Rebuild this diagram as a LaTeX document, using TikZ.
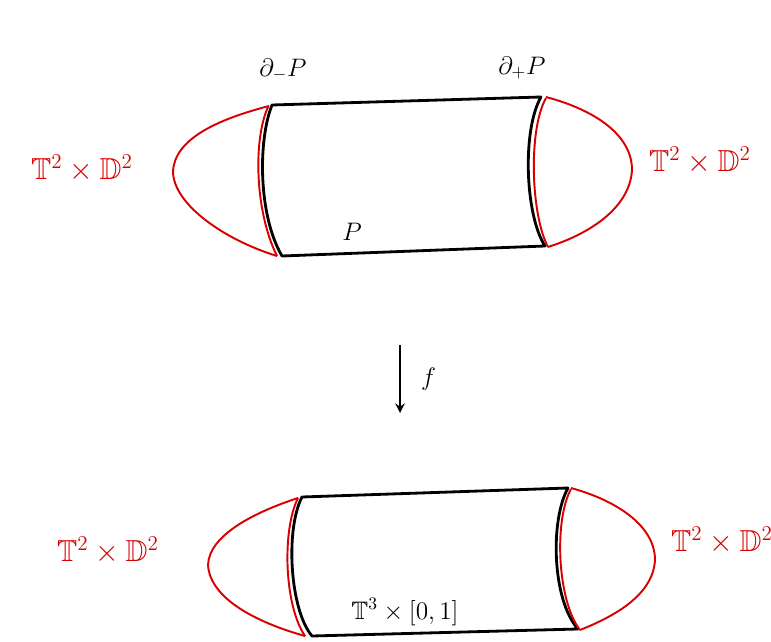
\documentclass[tikz,border=0pt]{standalone}
\usepackage{amssymb}
\begin{document}
\begin{tikzpicture}[
    x=0.02cm,
    y=-0.02cm,
    edge/.style={
        draw=black,
        line width=1.6pt,
        line join=round
    },
    redcap/.style={
        draw=red!85!black,
        line width=1.1pt
    },
    redlabel/.style={
        text=red!85!black,
        font=\LARGE
    },
    blacklabel/.style={
        font=\Large
    },
    arrow/.style={
        ->,
        line width=1.4pt,
        >=stealth
    }
]
\useasboundingbox (0,0) rectangle (771,642);

% Top piece P
\draw [redcap] (269,106) .. controls (215,120) and (174,140) .. (173,172) .. controls (174,205) and (225,240) .. (277,256);
\draw [redcap] (268,107) .. controls (253,140) and (255,212) .. (277,256);
\draw [edge] (272,105) -- (541,97) .. controls (522,130) and (525,215) .. (545,246) -- (282,256) .. controls (258,215) and (258,140) .. (272,105) -- cycle;
\draw [redcap] (546,97) .. controls (595,110) and (632,135) .. (632,170) .. controls (630,205) and (595,232) .. (548,247);
\draw [redcap] (546,98) .. controls (528,130) and (531,215) .. (548,247);

% Bottom piece
\draw [redcap] (298,498) .. controls (255,512) and (209,535) .. (208,565) .. controls (210,598) and (255,622) .. (305,636);
\draw [redcap] (298,498) .. controls (282,530) and (284,605) .. (305,636);
\draw [edge] (302,497) -- (568,488) .. controls (550,520) and (552,600) .. (578,629) -- (312,636) .. controls (290,610) and (285,530) .. (302,497) -- cycle;
\draw [redcap] (571,488) .. controls (615,500) and (655,525) .. (655,560) .. controls (653,595) and (615,616) .. (580,630);
\draw [redcap] (571,489) .. controls (554,520) and (557,600) .. (580,630);

% Labels
\node [redlabel] (tdLtop) at (82,168) {$\mathbb{T}^2\times\mathbb{D}^2$};
\node [redlabel] (tdRtop) at (700,160) {$\mathbb{T}^2\times\mathbb{D}^2$};
\node [redlabel] (tdLbot) at (108,550) {$\mathbb{T}^2\times\mathbb{D}^2$};
\node [redlabel] (tdRbot) at (722,540) {$\mathbb{T}^2\times\mathbb{D}^2$};
\node [blacklabel] (dminus) at (283,70) {$\partial_-P$};
\node [blacklabel] (dplus) at (522,68) {$\partial_+P$};
\node [blacklabel] (P) at (352,232) {$P$};
\node [blacklabel] (T3) at (405,612) {$\mathbb{T}^3\times[0,1]$};

% Map f
\coordinate (fstart) at (400,345);
\coordinate (fend) at (400,413);
\draw [arrow] (fstart) -- node[right=8pt, blacklabel] (f) {$f$} (fend);

\end{tikzpicture}
\end{document}
